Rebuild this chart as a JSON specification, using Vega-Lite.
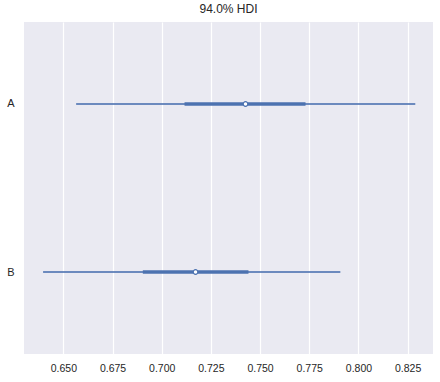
{
  "$schema": "https://vega.github.io/schema/vega-lite/v6.json",
  "autosize": {"type": "none"},
  "padding": {"left": 24, "top": 22, "right": 7, "bottom": 28},
  "width": 409,
  "height": 332,
  "background": "white",
  "title": {"text": "94.0% HDI", "fontSize": 12, "font": "Liberation Sans", "fontWeight": "normal", "color": "#262626", "offset": 6},
  "config": {
    "view": {"fill": "#EAEAF2", "stroke": null},
    "axis": {"labelFont": "Liberation Sans", "labelFontSize": 10.5, "labelColor": "#262626", "domain": false, "ticks": false}
  },
  "data": {"values": [
    {"model": "A", "hdi_low": 0.6565, "hdi_high": 0.8289, "q_low": 0.7116, "q_high": 0.7731, "median": 0.7426},
    {"model": "B", "hdi_low": 0.6397, "hdi_high": 0.7908, "q_low": 0.6904, "q_high": 0.7441, "median": 0.7172}
  ]},
  "encoding": {
    "y": {"field": "model", "type": "nominal", "scale": {"type": "point", "domain": ["A", "B"], "padding": 0.488},
      "axis": {"title": null, "grid": false, "labelPadding": 10, "labelFontSize": 11}}
  },
  "layer": [
    {"mark": {"type": "rule", "color": "#4c72b0", "strokeWidth": 2, "opacity": 0.8},
     "encoding": {
       "x": {"field": "hdi_low", "type": "quantitative", "scale": {"domain": [0.6300, 0.8379], "nice": false, "zero": false},
         "axis": {"title": null, "values": [0.65, 0.675, 0.7, 0.725, 0.75, 0.775, 0.8, 0.825], "format": ".3f", "grid": true, "gridColor": "white", "gridWidth": 1.2, "gridOpacity": 1, "labelPadding": 9}},
       "x2": {"field": "hdi_high"}
     }},
    {"mark": {"type": "rule", "color": "#4c72b0", "strokeWidth": 3.5},
     "encoding": {"x": {"field": "q_low", "type": "quantitative"}, "x2": {"field": "q_high"}}},
    {"mark": {"type": "point", "filled": true, "fill": "white", "stroke": "#4c72b0", "strokeWidth": 1.2, "size": 22, "opacity": 1},
     "encoding": {"x": {"field": "median", "type": "quantitative"}}}
  ]
}
